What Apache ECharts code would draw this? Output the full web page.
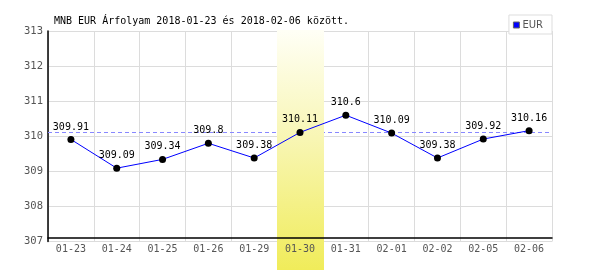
<!DOCTYPE html>
<html><head><meta charset="utf-8">
<script src="https://cdn.jsdelivr.net/npm/echarts@6/dist/echarts.min.js"></script>
<style>html,body{margin:0;padding:0;background:#fff}#c{width:600px;height:270px}</style>
</head><body><div id="c"></div>
<script>
const titleText = 'MNB EUR Árfolyam 2018-01-23 és 2018-02-06 között.';
const seriesName = 'EUR';
const categories = ['01-23','01-24','01-25','01-26','01-29','01-30','01-31','02-01','02-02','02-05','02-06'];
const values = [309.91,309.09,309.34,309.8,309.38,310.11,310.6,310.09,309.38,309.92,310.16];
const highlightIndex = 5;
const refValue = 310.11;
const yMin = 307, yMax = 313, yStep = 1;

const mono = 'DejaVu Sans Mono';
const chart = echarts.init(document.getElementById('c'), null, {renderer:'canvas'});
chart.setOption({
  animation:false,
  backgroundColor:'#fff',
  title:{text:titleText,left:49,top:11,textStyle:{fontFamily:mono,fontSize:10,fontWeight:'normal',color:'#000'}},
  legend:{data:[{name:seriesName,icon:'rect',itemStyle:{color:'#0000ff',borderColor:'#666',borderWidth:1}}],
    right:48,top:15,padding:[5,9,4,4],itemWidth:6,itemHeight:6,
    borderColor:'#ddd',borderWidth:1,backgroundColor:'#fff',
    textStyle:{fontFamily:'DejaVu Sans',fontSize:10,color:'#555',padding:[0,0,0,-2]}},
  grid:{left:48,right:48,top:31,bottom:28.5,containLabel:false},
  xAxis:[
    {type:'category',data:categories,boundaryGap:true,z:4,offset:-3.5,
     axisLine:{show:true,lineStyle:{color:'#000',width:1.5}},axisTick:{show:false},
     axisLabel:{fontFamily:mono,fontSize:10,color:'#555',margin:6},splitLine:{show:false}},
    {type:'category',data:categories,boundaryGap:true,z:0,position:'bottom',
     axisLine:{show:false},axisTick:{show:false},axisLabel:{show:false},
     splitLine:{show:true,interval:0,lineStyle:{color:'#dcdcdc',width:1}}}
  ],
  yAxis:{type:'value',min:yMin,max:yMax,interval:yStep,z:0,
    axisLine:{show:true,lineStyle:{color:'#000',width:1.5}},axisTick:{show:false},
    axisLabel:{fontFamily:mono,fontSize:10.5,color:'#555',margin:5},
    splitLine:{show:true,lineStyle:{color:'#dcdcdc',width:1}}},
  series:[{name:seriesName,type:'line',data:values,z:10,
    color:'#0000ff',lineStyle:{color:'#0000ff',width:1},
    symbol:'circle',symbolSize:7,itemStyle:{color:'#000'},showAllSymbol:true,
    label:{show:true,position:'top',distance:4,fontFamily:mono,fontSize:10,color:'#000'},
    markLine:{silent:true,symbol:'none',z:1,label:{show:false},
      lineStyle:{color:'#8888ff',type:[4,3],width:1},data:[{yAxis:refValue}]}
  }]
});
const ch = chart.getHeight();
const yTop = chart.convertToPixel({yAxisIndex:0}, yMax);
const c0 = chart.convertToPixel({xAxisIndex:0}, highlightIndex);
const c1 = chart.convertToPixel({xAxisIndex:0}, highlightIndex+1);
const bw = c1 - c0;
chart.setOption({graphic:[{type:'rect',z:3,silent:true,
  shape:{x:Math.round(c0 - bw/2),y:Math.round(yTop)-1,width:Math.round(bw)+1,height:ch-Math.round(yTop)+1},
  style:{fill:new echarts.graphic.LinearGradient(0,0,0,1,[{offset:0,color:'#fffff6'},{offset:0.45,color:'#f8f6b4'},{offset:1,color:'#f0ec5a'}])}}]});
</script></body></html>
